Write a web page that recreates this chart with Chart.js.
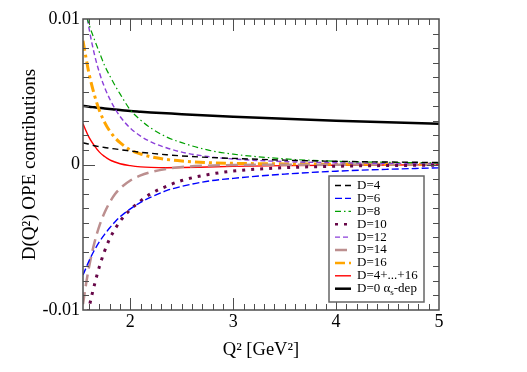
<!DOCTYPE html>
<html><head><meta charset="utf-8">
<script src="https://cdn.jsdelivr.net/npm/chart.js@4/dist/chart.umd.min.js"></script>
<style>html,body{margin:0;padding:0;background:#fff;}</style>
</head><body>
<canvas id="c" width="527" height="372" style="width:527px;height:372px;display:block"></canvas>
<script>
// ---- data ----
const q2 = [1.54, 1.57, 1.6, 1.65, 1.7, 1.75, 1.8, 1.85, 1.9, 2.0, 2.1, 2.2, 2.35, 2.5, 2.75, 3.0, 3.5, 4.0, 4.5, 5.0];
const dim4  = [1.49e-3, 1.44e-3, 1.39e-3, 1.29e-3, 1.23e-3, 1.17e-3, 1.12e-3, 1.07e-3, 1.02e-3, 0.93e-3, 0.84e-3, 0.77e-3, 0.67e-3, 0.59e-3, 0.49e-3, 0.42e-3, 0.30e-3, 0.22e-3, 0.17e-3, 0.14e-3];
const dim6  = [-7.6e-3, -7.1e-3, -6.6e-3, -5.9e-3, -5.3e-3, -4.8e-3, -4.35e-3, -3.95e-3, -3.6e-3, -3.05e-3, -2.6e-3, -2.25e-3, -1.8e-3, -1.5e-3, -1.15e-3, -0.95e-3, -0.66e-3, -0.46e-3, -0.33e-3, -0.23e-3];
const dim8  = [11.0e-3, 10.3e-3, 9.6e-3, 8.6e-3, 7.7e-3, 6.8e-3, 6.1e-3, 5.45e-3, 4.85e-3, 3.75e-3, 3.05e-3, 2.5e-3, 1.9e-3, 1.5e-3, 1.0e-3, 0.71e-3, 0.39e-3, 0.22e-3, 0.15e-3, 0.11e-3];
const dim10 = [-12.0e-3, -10.9e-3, -9.8e-3, -8.3e-3, -7.0e-3, -5.95e-3, -5.1e-3, -4.45e-3, -3.9e-3, -3.1e-3, -2.5e-3, -2.0e-3, -1.5e-3, -1.1e-3, -0.7e-3, -0.45e-3, -0.22e-3, -0.12e-3, -0.07e-3, -0.05e-3];
const dim12 = [12.2e-3, 10.6e-3, 9.3e-3, 7.6e-3, 6.3e-3, 5.3e-3, 4.5e-3, 3.85e-3, 3.3e-3, 2.5e-3, 1.95e-3, 1.55e-3, 1.15e-3, 0.85e-3, 0.55e-3, 0.38e-3, 0.2e-3, 0.12e-3, 0.08e-3, 0.06e-3];
const dim14 = [-9.6e-3, -8.2e-3, -7.0e-3, -5.4e-3, -4.2e-3, -3.3e-3, -2.6e-3, -2.05e-3, -1.65e-3, -1.1e-3, -0.75e-3, -0.52e-3, -0.3e-3, -0.17e-3, -0.08e-3, -0.04e-3, -0.015e-3, -0.01e-3, -0.005e-3, 0];
const dim16 = [8.5e-3, 7.3e-3, 6.2e-3, 4.8e-3, 3.7e-3, 2.9e-3, 2.3e-3, 1.85e-3, 1.5e-3, 1.0e-3, 0.72e-3, 0.53e-3, 0.35e-3, 0.24e-3, 0.13e-3, 0.08e-3, 0.04e-3, 0.02e-3, 0.01e-3, 0.01e-3];
const dimSum = [2.8e-3, 2.3e-3, 1.85e-3, 1.3e-3, 0.85e-3, 0.55e-3, 0.32e-3, 0.17e-3, 0.05e-3, -0.08e-3, -0.16e-3, -0.2e-3, -0.22e-3, -0.21e-3, -0.17e-3, -0.13e-3, -0.08e-3, -0.05e-3, -0.03e-3, -0.02e-3];
const dim0as = [4.02e-3, 4.0e-3, 3.97e-3, 3.93e-3, 3.89e-3, 3.85e-3, 3.82e-3, 3.78e-3, 3.75e-3, 3.68e-3, 3.63e-3, 3.58e-3, 3.52e-3, 3.46e-3, 3.37e-3, 3.29e-3, 3.14e-3, 3.01e-3, 2.90e-3, 2.80e-3];

const seriesLabels = ["D=4", "D=6", "D=8", "D=10", "D=12", "D=14", "D=16", "D=4+...+16", "D=0 \u03B1s-dep"];
const xTickValues = [2, 3, 4, 5];
const xTickLabels = ["2", "3", "4", "5"];
const yTickValues = [-0.01, 0, 0.01];
const yTickLabels = ["-0.01", "0", "0.01"];
const xTitle = "Q\u00B2 [GeV\u00B2]";
const yTitle = "D(Q\u00B2) OPE contributions";

// ---- styles ----
const seriesValues = [dim4, dim6, dim8, dim10, dim12, dim14, dim16, dimSum, dim0as];
const styles = [
  {c: "#000000", w: 1.4, d: [6, 4]},
  {c: "#0000ff", w: 1.4, d: [7, 3]},
  {c: "#00a000", w: 1.2, d: [6, 3, 1.5, 3]},
  {c: "#670748", w: 3, d: [3, 6]},
  {c: "#8b3fd9", w: 1.4, d: [5, 3]},
  {c: "#bc8f8f", w: 2.5, d: [12, 6]},
  {c: "#ffa500", w: 3, d: [10, 4, 3, 4]},
  {c: "#ff0000", w: 1.4, d: []},
  {c: "#000000", w: 2.5, d: []}
];

const PL = 83, PR = 439, PT = 19, PB = 310, W = 527, H = 372;
const FONT = "Liberation Serif, Times New Roman, serif";

const datasets = seriesLabels.map((lab, i) => ({
  label: lab,
  data: q2.map((x, j) => ({x: x, y: seriesValues[i][j]})),
  borderColor: styles[i].c,
  borderWidth: styles[i].w,
  borderDash: styles[i].d,
  pointRadius: 0,
  fill: false,
  cubicInterpolationMode: 'monotone',
  clip: 0
}));

const framePlugin = {
  id: 'frame',
  afterDatasetsDraw(chart) {
    const ctx = chart.ctx, xs = chart.scales.x, ys = chart.scales.y, a = chart.chartArea;
    ctx.save();
    ctx.strokeStyle = "#4d4d4d";
    ctx.lineWidth = 1;
    ctx.beginPath();
    for (let k = 16; k <= 49; k++) {
      const v = k / 10;
      const px = Math.round(xs.getPixelForValue(v)) + 0.5;
      const len = (k % 10 === 0) ? 12 : 6;
      ctx.moveTo(px, a.bottom); ctx.lineTo(px, a.bottom - len);
      ctx.moveTo(px, a.top); ctx.lineTo(px, a.top + len);
    }
    for (let k = -9; k <= 9; k++) {
      const v = k / 1000;
      const py = Math.round(ys.getPixelForValue(v)) + 0.5;
      const len = (k === 0) ? 12 : 6;
      ctx.moveTo(a.left, py); ctx.lineTo(a.left + len, py);
      ctx.moveTo(a.right, py); ctx.lineTo(a.right - len, py);
    }
    ctx.stroke();
    ctx.lineWidth = 1.5;
    ctx.strokeRect(a.left, a.top, a.right - a.left, a.bottom - a.top);
    ctx.restore();
  },
  afterDraw(chart) {
    const ctx = chart.ctx;
    const bx = 329, by = 176, bw = 95, bh = 126;
    ctx.save();
    ctx.fillStyle = "#fff";
    ctx.fillRect(bx, by, bw, bh);
    ctx.strokeStyle = "#666";
    ctx.lineWidth = 1.5;
    ctx.strokeRect(bx, by, bw, bh);
    const rowH = 12.9;
    const LF = "13px " + FONT;
    chart.data.datasets.forEach((ds, i) => {
      const y = by + 9.5 + i * rowH;
      ctx.save();
      ctx.strokeStyle = ds.borderColor;
      ctx.lineWidth = Math.min(ds.borderWidth, 2.5);
      ctx.setLineDash(ds.borderDash || []);
      ctx.beginPath();
      ctx.moveTo(335, y); ctx.lineTo(351, y);
      ctx.stroke();
      ctx.restore();
      ctx.fillStyle = "#000";
      ctx.textBaseline = "middle";
      ctx.textAlign = "left";
      ctx.font = LF;
      const lab = ds.label;
      if (lab.indexOf("\u03B1s") >= 0) {
        const parts = lab.split("\u03B1s");
        let x = 357;
        const p0 = parts[0] + "\u03B1";
        ctx.fillText(p0, x, y); x += ctx.measureText(p0).width;
        ctx.font = "9px " + FONT;
        ctx.fillText("s", x, y + 3.5); x += ctx.measureText("s").width;
        ctx.font = LF;
        ctx.fillText(parts[1], x, y);
      } else {
        ctx.fillText(lab, 357, y);
      }
    });
    ctx.restore();
  }
};

new Chart(document.getElementById('c'), {
  type: 'line',
  data: {datasets: datasets},
  options: {
    responsive: false,
    animation: false,
    devicePixelRatio: 1,
    layout: {padding: {left: 0, top: PT, right: W - PR, bottom: 0}},
    plugins: {legend: {display: false}, tooltip: {enabled: false}},
    scales: {
      x: {
        type: 'linear', min: 1.54, max: 5,
        grid: {display: false, drawTicks: false},
        border: {display: false},
        afterBuildTicks: s => { s.ticks = xTickValues.map(v => ({value: v})); },
        afterFit: s => { s.height = H - PB; },
        ticks: {
          color: "#000", padding: 1, maxRotation: 0, autoSkip: false,
          font: {family: FONT, size: 18},
          callback: (v, i) => xTickLabels[xTickValues.indexOf(v)]
        },
        title: {display: true, text: xTitle, color: "#000", font: {family: FONT, size: 18.5}, padding: {top: 0, bottom: 11}}
      },
      y: {
        type: 'linear', min: -0.01, max: 0.01,
        grid: {display: false, drawTicks: false},
        border: {display: false},
        afterBuildTicks: s => { s.ticks = yTickValues.map(v => ({value: v})); },
        afterFit: s => { s.width = PL; },
        ticks: {
          color: "#000", padding: 3, autoSkip: false,
          font: {family: FONT, size: 18},
          callback: (v) => { const k = yTickValues.findIndex(t => Math.abs(t - v) < 1e-9); return yTickLabels[k]; }
        },
        title: {display: true, text: yTitle, color: "#000", font: {family: FONT, size: 19}, padding: {top: 19, bottom: 0}}
      }
    }
  },
  plugins: [framePlugin]
});
</script>
</body></html>
